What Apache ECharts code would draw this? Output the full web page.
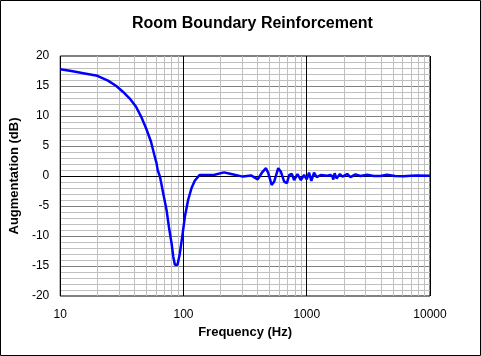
<!DOCTYPE html>
<html><head><meta charset="utf-8">
<script src="https://cdn.jsdelivr.net/npm/echarts@6/dist/echarts.min.js"></script>
<style>html,body{margin:0;padding:0;background:#fff}#c{width:481px;height:356px}</style>
</head><body><div id="c"></div>
<script>
const freqHz = [10, 12.3, 15.8, 20, 24.4, 28.5, 32.2, 36.5, 41.2, 45.3, 49.7, 54.5, 58, 60.5, 61.7, 64.4, 68.5, 72.9, 76.1, 80, 82.6, 85.1, 89.5, 93.4, 97.7, 102.6, 109, 116, 123.4, 135, 163, 179, 213, 244, 303, 353, 400, 433, 467, 488, 519, 545, 587, 617, 656, 690, 720, 757, 790, 841, 896, 951, 1000, 1044, 1090, 1146, 1205, 1298, 1469, 1550, 1611, 1641, 1683, 1746, 1858, 1950, 2128, 2264, 2484, 2725, 3089, 3500, 3954, 4475, 5200, 6095, 7000, 7814, 10000];
const augmentationDb = [17.8, 17.5, 17.1, 16.7, 15.9, 15.0, 14.05, 12.95, 11.55, 9.9, 7.95, 5.7, 3.5, 2.1, 1.0, -0.1, -2.9, -5.7, -8.45, -11.2, -13.45, -14.8, -14.8, -12.9, -10.1, -6.8, -4.0, -2.05, -0.8, 0.17, 0.17, 0.2, 0.6, 0.33, -0.1, 0.1, -0.55, 0.55, 1.3, 0.45, -1.5, -0.9, 1.3, 0.7, -0.95, -1.2, 0.17, 0.33, -0.67, 0.33, -0.67, 0.17, -0.55, 0.55, -0.8, 0.55, -0.2, 0.17, 0.05, 0.17, 0, -0.6, 0.45, -0.4, 0.33, -0.1, 0.33, -0.2, 0.28, 0, 0.2, 0, 0, 0.2, 0, -0.05, 0.05, 0.1, 0.05];
const xTickLabels = [10, 100, 1000, 10000];
const minorFreqs = [20,30,40,50,60,70,80,90,200,300,400,500,600,700,800,900,2000,3000,4000,5000,6000,7000,8000,9000];

const font = '"Liberation Sans", Arial, sans-serif';
const chart = echarts.init(document.getElementById('c'), null, {renderer: 'canvas'});
const pts = freqHz.map((f, i) => [f, augmentationDb[i]]);
chart.setOption({
  animation: false,
  backgroundColor: '#fff',
  title: {
    text: 'Room Boundary Reinforcement',
    left: 127, top: 11,
    textStyle: {fontFamily: font, fontSize: 16, fontWeight: 'bold', color: '#000'}
  },
  graphic: [{type: 'rect', shape: {x: 0.5, y: 0.5, width: 480, height: 355}, style: {fill: 'none', stroke: '#000', lineWidth: 1}, z: 100}],
  grid: {left: 58, top: 56, width: 372, height: 240, show: true, borderColor: '#000', borderWidth: 1},
  xAxis: {
    type: 'log', logBase: 10, min: 10, max: 10000,
    name: 'Frequency (Hz)', nameLocation: 'middle', nameGap: 30,
    nameTextStyle: {fontFamily: font, fontSize: 13, fontWeight: 'bold', color: '#000'},
    axisLine: {show: false}, axisTick: {show: false},
    axisLabel: {fontFamily: font, fontSize: 12, color: '#000', margin: 13,
      formatter: v => xTickLabels.includes(Math.round(v)) ? String(Math.round(v)) : ''},
    splitLine: {show: true, lineStyle: {color: '#000', width: 1}},
    minorTick: {show: false}, minorSplitLine: {show: false}
  },
  yAxis: {
    type: 'value', min: -20, max: 20, interval: 5,
    name: 'Augmentation (dB)', nameLocation: 'middle', nameGap: 33,
    nameTextStyle: {fontFamily: font, fontSize: 13, fontWeight: 'bold', color: '#000'},
    axisLine: {show: false}, axisTick: {show: false},
    axisLabel: {fontFamily: font, fontSize: 12, color: '#000', margin: 11},
    splitLine: {show: true, lineStyle: {color: '#808080', width: 1}},
    minorTick: {show: false, splitNumber: 5},
    minorSplitLine: {show: true, lineStyle: {color: '#c0c0c0', width: 1}}
  },
  series: [
    {
      type: 'line', data: pts, showSymbol: false, smooth: false,
      lineStyle: {color: '#0000ff', width: 2.5}, z: 5,
      markLine: {
        silent: true, symbol: 'none', animation: false, label: {show: false},
        lineStyle: {color: '#c0c0c0', width: 1, type: 'solid'},
        data: minorFreqs.map(f => ({xAxis: f, lineStyle: {color: '#c0c0c0', width: 1, type: 'solid'}}))
          .concat([{yAxis: 0, lineStyle: {color: '#000', width: 1, type: 'solid'}},
                   {xAxis: 100, lineStyle: {color: '#000', width: 1, type: 'solid'}},
                   {xAxis: 1000, lineStyle: {color: '#000', width: 1, type: 'solid'}}])
      }
    }
  ]
});
</script></body></html>
